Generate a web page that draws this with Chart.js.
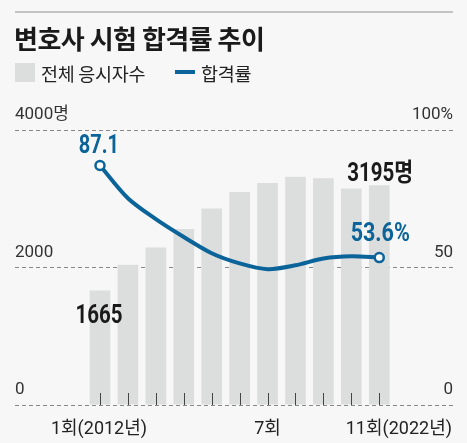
<!DOCTYPE html>
<html>
<head>
<meta charset="utf-8">
<script src="https://cdn.jsdelivr.net/npm/chart.js@4"></script>
<style>
  html, body { margin: 0; padding: 0; background: #f7f7f7; }
  #wrap { position: relative; width: 467px; height: 443px; overflow: hidden; font-family: Roboto, 'Noto Sans CJK KR', sans-serif; }
  #topline { position: absolute; left: 15px; top: 11px; width: 438px; height: 2px; background: #c4c4c4; }
  #title { position: absolute; left: 14px; top: 20px; font-size: 26px; font-weight: bold; color: #1a1a1a; letter-spacing: -0.5px; font-family: 'Noto Sans CJK KR', sans-serif; line-height: 36px; }
  .lg { position: absolute; top: 61px; font-size: 18.5px; color: #222; font-family: 'Noto Sans CJK KR', sans-serif; line-height: 24px; letter-spacing: -0.3px; }
  #sq { position: absolute; left: 15px; top: 63px; width: 20px; height: 19px; background: #dcdddd; }
  #dash { position: absolute; left: 175px; top: 70px; width: 20px; height: 4px; background: #0a6399; }
  canvas { position: absolute; left: 0; top: 0; }
</style>
</head>
<body>
<div id="wrap">
  <canvas id="passChart" width="467" height="443"></canvas>
  <div id="topline"></div>
  <div id="title">변호사 시험 합격률 추이</div>
  <div id="sq"></div>
  <div class="lg" style="left:41px">전체 응시자수</div>
  <div id="dash"></div>
  <div class="lg" style="left:201px">합격률</div>
</div>
<script>
var rounds = [1, 2, 3, 4, 5, 6, 7, 8, 9, 10, 11];
var applicants = [1665, 2040, 2290, 2560, 2860, 3100, 3230, 3320, 3300, 3150, 3195];
var passRate = [87.1, 75.2, 67.6, 61.1, 55.2, 51.5, 49.4, 50.8, 53.3, 54.1, 53.6];
var leftTicks = [0, 2000, 4000];
var rightTicks = [0, 50, 100];
var xLabels = { 1: '1회(2012년)', 7: '7회', 11: '11회(2022년)' };

var blue = '#0a6399';
var barGray = '#dcdddd';

function condensedText(ctx, txt, x, y, sx) {
    ctx.save();
    ctx.translate(x, y);
    ctx.scale(sx, 1);
    ctx.fillText(txt, 0, 0);
    ctx.restore();
}

var extrasPlugin = {
    id: 'extras',
    afterDatasetsDraw: function(chart) {
        var ctx = chart.ctx;
        var xs = chart.scales.x;
        var bottom = chart.chartArea.bottom;

        // small tick marks over the bars
        ctx.save();
        ctx.strokeStyle = '#444';
        ctx.lineWidth = 1;
        rounds.forEach(function(r) {
            var px = Math.round(xs.getPixelForValue(r)) + 0.5;
            ctx.beginPath();
            ctx.moveTo(px, bottom - 12);
            ctx.lineTo(px, bottom);
            ctx.stroke();
        });

        // x labels
        ctx.fillStyle = '#222';
        ctx.font = "18px Roboto, 'Noto Sans CJK KR', sans-serif";
        ctx.textBaseline = 'alphabetic';
        ctx.textAlign = 'center';
        ctx.fillText(xLabels[1], xs.getPixelForValue(1) - 1, 434);
        ctx.fillText(xLabels[7], xs.getPixelForValue(7), 434);
        ctx.textAlign = 'right';
        ctx.fillText(xLabels[11], chart.chartArea.right - 1, 434);

        // value labels
        var last = rounds.length - 1;
        ctx.textAlign = 'center';
        ctx.font = "bold 25px Roboto, 'Noto Sans CJK KR', sans-serif";
        ctx.fillStyle = blue;
        condensedText(ctx, passRate[0].toFixed(1), xs.getPixelForValue(rounds[0]) - 1, 153, 0.8);
        condensedText(ctx, passRate[last].toFixed(1) + '%', xs.getPixelForValue(rounds[last]) + 1, 241, 0.86);
        ctx.fillStyle = '#1a1a1a';
        condensedText(ctx, String(applicants[0]), xs.getPixelForValue(rounds[0]) - 1, 323, 0.82);
        condensedText(ctx, applicants[last] + '명', xs.getPixelForValue(rounds[last]) + 1, 181, 0.82);
        ctx.restore();
    }
};

var ctx = document.getElementById('passChart').getContext('2d');
var passChart = new Chart(ctx, {
    data: {
        datasets: [{
            type: 'line',
            label: '합격률',
            yAxisID: 'y2',
            order: 0,
            data: rounds.map(function(r, i) { return { x: r, y: passRate[i] }; }),
            borderColor: blue,
            borderWidth: 4,
            tension: 0.3,
            pointRadius: rounds.map(function(r, i) { return (i === 0 || i === rounds.length - 1) ? 4.5 : 0; }),
            pointBackgroundColor: '#ffffff',
            pointBorderColor: blue,
            pointBorderWidth: 2.5
        }, {
            type: 'bar',
            label: '전체 응시자수',
            yAxisID: 'y',
            order: 1,
            data: rounds.map(function(r, i) { return { x: r, y: applicants[i] }; }),
            backgroundColor: barGray,
            categoryPercentage: 1,
            barPercentage: 0.74
        }]
    },
    options: {
        responsive: false,
        animation: false,
        layout: { padding: { left: 15, right: 14, top: 130, bottom: 38 } },
        plugins: { legend: { display: false }, tooltip: { enabled: false } },
        scales: {
            x: {
                type: 'linear',
                display: false,
                offset: false,
                min: -2.043,
                max: 13.64
            },
            y: {
                position: 'left',
                min: 0, max: 4000,
                afterBuildTicks: function(s) { s.ticks = leftTicks.map(function(v) { return { value: v }; }); },
                grid: { color: '#888', drawTicks: false, borderDash: [4, 3] },
                border: { display: false, dash: [4, 3] },
                ticks: {
                    mirror: true, padding: 0, labelOffset: -15, color: '#333',
                    font: { family: "Roboto, 'Noto Sans CJK KR', sans-serif", size: 17 },
                    callback: function(v) { return v === 4000 ? v + '명' : String(v); }
                }
            },
            y2: {
                position: 'right',
                min: 0, max: 100,
                afterBuildTicks: function(s) { s.ticks = rightTicks.map(function(v) { return { value: v }; }); },
                grid: { drawOnChartArea: false, drawTicks: false },
                border: { display: false },
                ticks: {
                    mirror: true, padding: 0, labelOffset: -15, color: '#333',
                    font: { family: "Roboto, 'Noto Sans CJK KR', sans-serif", size: 17 },
                    callback: function(v) { return v === 100 ? v + '%' : String(v); }
                }
            }
        }
    },
    plugins: [extrasPlugin]
});
</script>
</body>
</html>
